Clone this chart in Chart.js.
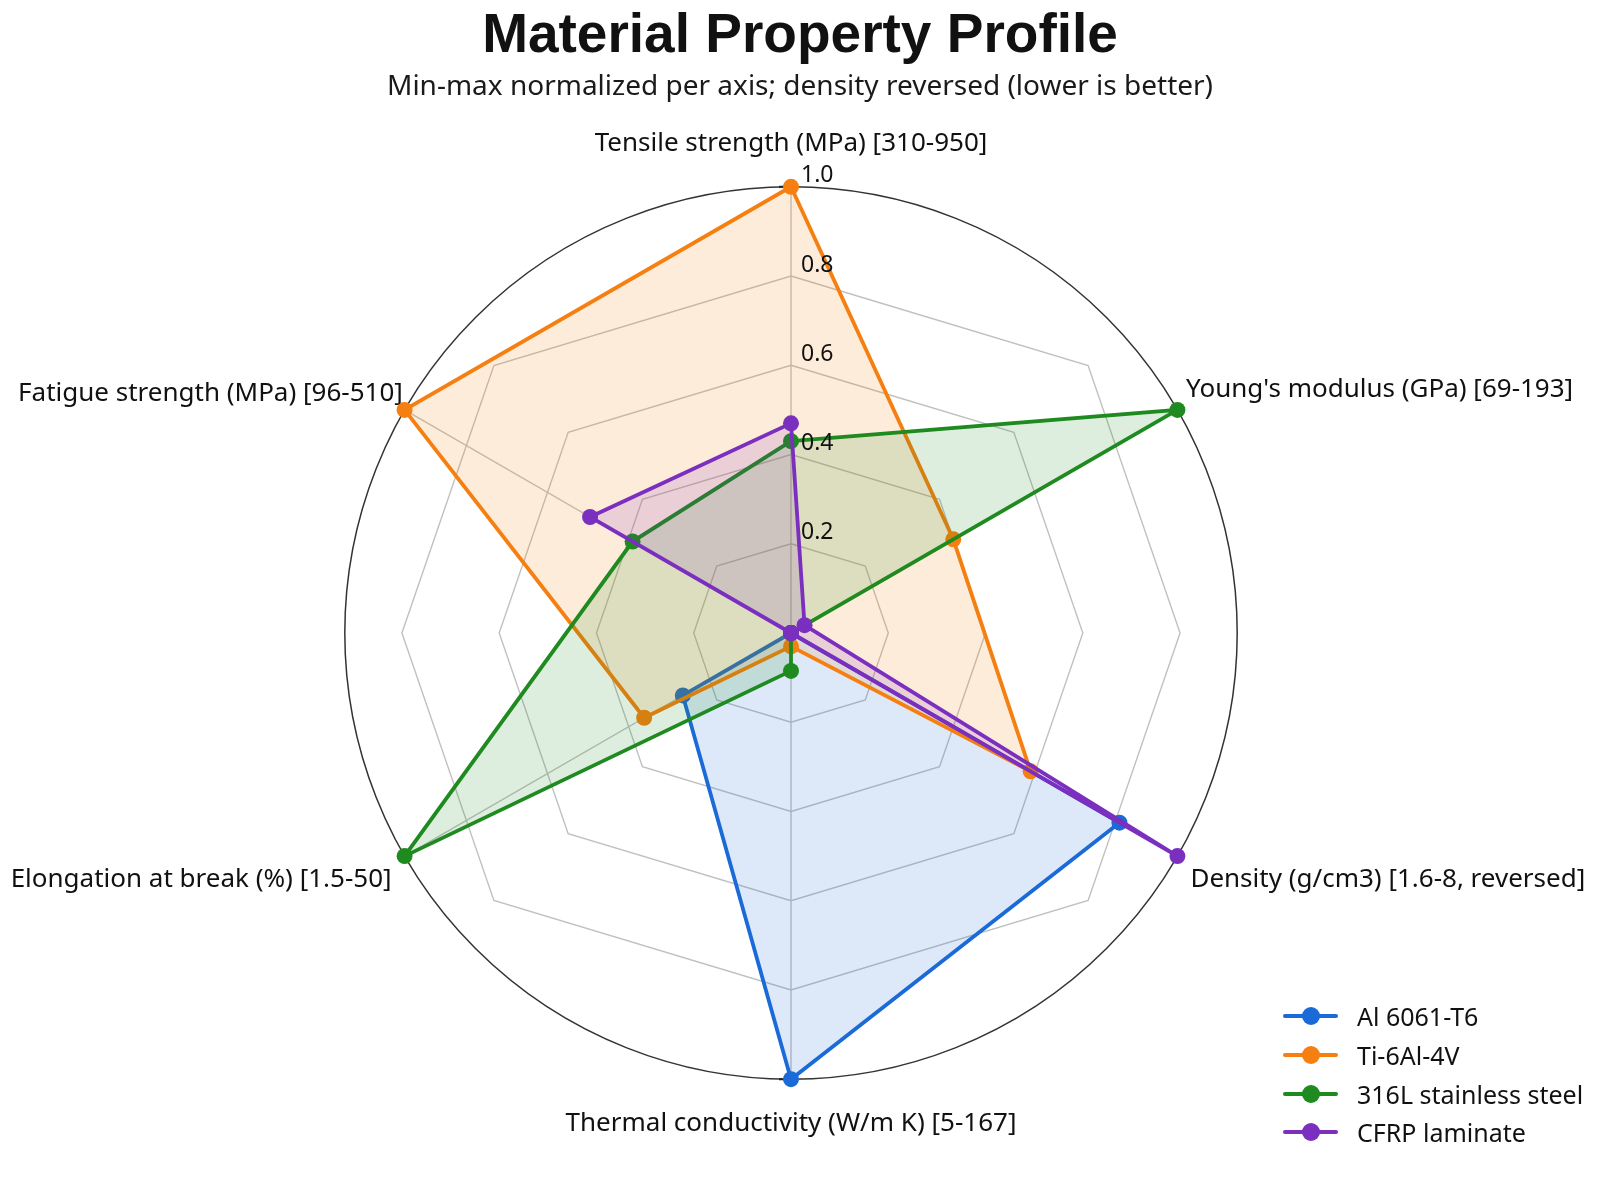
<!DOCTYPE html>
<html>
<head>
<meta charset="utf-8">
<title>Material Property Profile</title>
<script src="https://cdn.jsdelivr.net/npm/chart.js@4.4.1/dist/chart.umd.min.js"></script>
<style>
  html, body { margin: 0; padding: 0; background: #fff; }
  #wrap { position: relative; width: 1600px; height: 1200px; }
  #legend { position: absolute; left: 1283px; top: 997px; font-family: "Noto Sans", sans-serif; font-size: 25px; color: #111; }
  #legend .item { display: flex; align-items: center; height: 38.7px; }
  #legend .key { position: relative; width: 55px; height: 18px; margin-right: 19px; }
  #legend .key .ln { position: absolute; left: 0; right: 0; top: 7px; height: 4px; border-radius: 2px; }
  #legend .key .dot { position: absolute; left: 18.5px; top: 0; width: 18px; height: 18px; border-radius: 50%; }
</style>
</head>
<body>
<div id="wrap">
  <canvas id="radar"></canvas>
  <div id="legend"></div>
</div>
<script>
const ctx = document.getElementById('radar');

// axes, clockwise from the top
const axisLabels = [
  'Tensile strength (MPa) [310-950]',
  "Young's modulus (GPa) [69-193]",
  'Density (g/cm3) [1.6-8, reversed]',
  'Thermal conductivity (W/m K) [5-167]',
  'Elongation at break (%) [1.5-50]',
  'Fatigue strength (MPa) [96-510]'
];

// normalized values
const alValues   = [0.00, 0.00, 0.85, 1.00, 0.28, 0.00];
const tiValues   = [1.00, 0.42, 0.62, 0.03, 0.38, 1.00];
const steelValues = [0.43, 1.00, 0.00, 0.085, 1.00, 0.41];
const cfrpValues = [0.47, 0.035, 1.00, 0.00, 0.00, 0.52];

const seriesNames = ['Al 6061-T6', 'Ti-6Al-4V', '316L stainless steel', 'CFRP laminate'];
const seriesColors = ['#1a6ad8', '#f57f10', '#1f8a1f', '#7a2fbf'];
const seriesFills = ['rgba(26,106,216,0.15)', 'rgba(245,127,16,0.15)', 'rgba(31,138,31,0.15)', 'rgba(122,47,191,0.15)'];

const tickValues = [0.2, 0.4, 0.6, 0.8, 1.0];
const tickLabels = ['0.2', '0.4', '0.6', '0.8', '1.0'];
const gridValues = [0.2, 0.4, 0.6, 0.8];

// label gap per axis
const labelPadding = [28, 10, 15, 29, 15, 2];

// the gray rings are drawn as slightly irregular octagons
const octAngles = [0, 48, 90, 132, 180, 228, 270, 312];
const octScale = [1, 1.12, 1.09, 1.12, 1, 1.12, 1.09, 1.12];

const allValues = [alValues, tiValues, steelValues, cfrpValues];

const octGrid = {
  id: 'octGrid',
  beforeDatasetsDraw(chart) {
    const s = chart.scales.r;
    const c = chart.ctx;
    c.save();
    c.strokeStyle = '#c0c0c0';
    c.lineWidth = 1.4;
    gridValues.forEach(v => {
      const r = s.getDistanceFromCenterForValue(v);
      c.beginPath();
      octAngles.forEach((a, i) => {
        const rad = a * Math.PI / 180;
        const x = s.xCenter + r * octScale[i] * Math.sin(rad);
        const y = s.yCenter - r * octScale[i] * Math.cos(rad);
        if (i === 0) c.moveTo(x, y); else c.lineTo(x, y);
      });
      c.closePath();
      c.stroke();
    });
    // small ticks where the vertical axis meets the rim
    const R = s.getDistanceFromCenterForValue(1);
    c.strokeStyle = '#222';
    c.lineWidth = 2;
    c.beginPath();
    c.moveTo(s.xCenter - 12, s.yCenter - R); c.lineTo(s.xCenter, s.yCenter - R);
    c.moveTo(s.xCenter - 12, s.yCenter + R); c.lineTo(s.xCenter, s.yCenter + R);
    c.stroke();
    c.restore();
  },
  afterDatasetsDraw(chart) {
    const s = chart.scales.r;
    const c = chart.ctx;
    c.save();
    c.font = '23px "Noto Sans"';
    c.fillStyle = '#111';
    c.textAlign = 'left';
    c.textBaseline = 'middle';
    tickValues.forEach((v, i) => {
      const r = s.getDistanceFromCenterForValue(v);
      c.fillText(tickLabels[i], s.xCenter + 10, s.yCenter - r - 11);
    });
    c.restore();
  }
};

new Chart(ctx, {
  type: 'radar',
  data: {
    labels: axisLabels,
    datasets: allValues.map((vals, i) => ({
      label: seriesNames[i],
      data: vals,
      borderColor: seriesColors[i],
      backgroundColor: seriesFills[i],
      pointBackgroundColor: seriesColors[i],
      pointBorderColor: seriesColors[i],
      pointBorderWidth: 0,
      pointRadius: 8,
      borderWidth: 3.8,
      fill: true,
      order: 4 - i
    }))
  },
  options: {
    responsive: true,
    maintainAspectRatio: false,
    animation: false,
    layout: { padding: { top: 0, bottom: 60, left: 0, right: 0 } },
    plugins: {
      legend: { display: false },
      tooltip: { enabled: false },
      title: {
        display: true,
        text: 'Material Property Profile',
        color: '#111',
        font: { family: '"Liberation Sans", Arial, sans-serif', size: 55, weight: 'bold' },
        padding: { top: 4, bottom: 0 }
      },
      subtitle: {
        display: true,
        text: 'Min-max normalized per axis; density reversed (lower is better)',
        color: '#1a1a1a',
        font: { family: '"Noto Sans", sans-serif', size: 28 },
        padding: { top: 0, bottom: 24 }
      }
    },
    scales: {
      r: {
        min: 0,
        max: 1,
        ticks: { display: false, stepSize: 0.2 },
        grid: {
          circular: true,
          color: c => (c.tick && c.tick.value === 1 ? '#333' : 'rgba(0,0,0,0)'),
          lineWidth: 1.5
        },
        angleLines: { display: true, color: '#c0c0c0', lineWidth: 1.4 },
        pointLabels: {
          display: true,
          color: '#111',
          font: { family: '"Noto Sans", sans-serif', size: 26 },
          padding: c => labelPadding[c.index]
        }
      }
    }
  },
  plugins: [octGrid]
});

// legend: line with a dot, like the reference
const legend = document.getElementById('legend');
seriesNames.forEach((name, i) => {
  const item = document.createElement('div');
  item.className = 'item';
  item.innerHTML = '<span class="key"><span class="ln" style="background:' + seriesColors[i] +
    '"></span><span class="dot" style="background:' + seriesColors[i] + '"></span></span><span>' + name + '</span>';
  legend.appendChild(item);
});
</script>
</body>
</html>
